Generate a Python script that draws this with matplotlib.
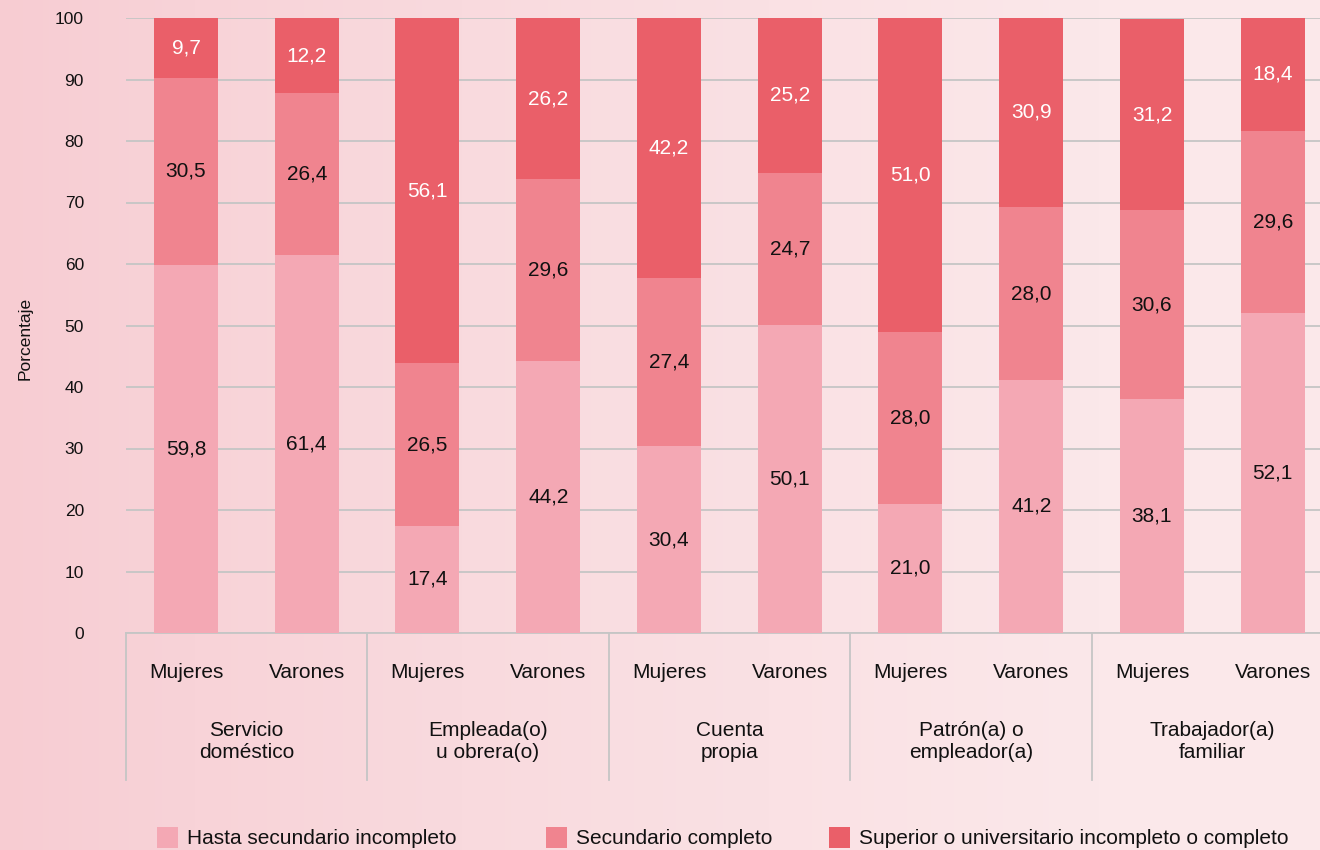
import matplotlib
matplotlib.use("Agg")
import matplotlib.pyplot as plt
import numpy as np
from matplotlib.patches import Rectangle

plt.rcParams['font.family'] = ['Liberation Sans', 'DejaVu Sans']

categories = ["Servicio\ndoméstico", "Empleada(o)\nu obrera(o)", "Cuenta\npropia",
              "Patrón(a) o\nempleador(a)", "Trabajador(a)\nfamiliar"]
sexes = ["Mujeres", "Varones"]
series_names = ["Hasta secundario incompleto", "Secundario completo",
                "Superior o universitario incompleto o completo"]
# order: for each category, Mujeres then Varones
hasta_sec_incompleto = [59.8, 61.4, 17.4, 44.2, 30.4, 50.1, 21.0, 41.2, 38.1, 52.1]
sec_completo = [30.5, 26.4, 26.5, 29.6, 27.4, 24.7, 28.0, 28.0, 30.6, 29.6]
superior = [9.7, 12.2, 56.1, 26.2, 42.2, 25.2, 51.0, 30.9, 31.2, 18.4]
yticks = list(range(0, 101, 10))

colors = ["#F4A8B4", "#F0848F", "#EA5F69"]
text_colors = ["#111111", "#111111", "white"]

W, H = 1320, 850
fig = plt.figure(figsize=(W / 100, H / 100), dpi=100)

# background gradient
bg = fig.add_axes([0, 0, 1, 1], zorder=-10)
c1 = np.array([247, 204, 210]) / 255
c2 = np.array([251, 232, 234]) / 255
t = np.linspace(0, 1, 400)
t = np.clip(t * 1.2, 0, 1) ** 0.8
grad = (c1[None, :] * (1 - t[:, None]) + c2[None, :] * t[:, None])[None, :, :]
bg.imshow(grad, aspect='auto', extent=[0, 1, 0, 1])
bg.axis('off')

x0, x_unit = 125.6, 120.75
y0, ytop = 633, 18
ax = fig.add_axes([x0 / W, (H - y0) / H, 10 * x_unit / W, (y0 - ytop) / H])
ax.set_facecolor('none')
ax.set_xlim(-0.5, 9.5)
ax.set_ylim(0, 100)

x = np.arange(10)
series = [hasta_sec_incompleto, sec_completo, superior]
bottom = np.zeros(10)
for vals, col, tc in zip(series, colors, text_colors):
    vals = np.array(vals)
    ax.bar(x, vals, width=0.53, bottom=bottom, color=col, zorder=3)
    for xi, b, v in zip(x, bottom, vals):
        ax.text(xi, b + v / 2, f"{v:.1f}".replace('.', ','), ha='center', va='center',
                fontsize=15, color=tc, zorder=4)
    bottom = bottom + vals

ax.set_yticks(yticks)
ax.set_yticklabels([str(v) for v in yticks])
ax.tick_params(axis='y', length=0, pad=30, labelsize=12.5, labelcolor='#111111')
ax.set_xticks([])
ax.yaxis.grid(True, color='#C5C5C5', lw=1.3, zorder=0)
ax.set_axisbelow(True)
for s in ['top', 'right', 'left']:
    ax.spines[s].set_visible(False)
ax.spines['bottom'].set_color('#C5C5C5')
ax.spines['bottom'].set_linewidth(1.3)

trans = ax.get_xaxis_transform()
sub_y = (y0 - 672) / (y0 - ytop)
cat_y = (y0 - 742) / (y0 - ytop)
sep_y = (y0 - 780) / (y0 - ytop)
for i in range(10):
    ax.text(i, sub_y, sexes[i % 2], transform=trans, ha='center', va='center',
            fontsize=15, color='#111111')
for g, cat in enumerate(categories):
    ax.text(2 * g + 0.5, cat_y, cat, transform=trans, ha='center', va='center',
            fontsize=15, color='#111111', linespacing=1.2)
for g in range(6):
    ax.plot([2 * g - 0.5, 2 * g - 0.5], [0, sep_y], transform=trans, color='#C5C5C5',
            lw=1.3, clip_on=False, zorder=2)

fig.text(25 / W, 1 - 338 / H, "Porcentaje", rotation=90, ha='center', va='center',
         fontsize=12.5, color='#111111')

# legend
leg_x = [157, 546, 829]
sq = 21
for lx, name, col in zip(leg_x, series_names, colors):
    fig.add_artist(Rectangle((lx / W, 1 - 848 / H), sq / W, sq / H, transform=fig.transFigure,
                             color=col, lw=0))
    fig.text((lx + 30) / W, 1 - 838 / H, name, ha='left', va='center', fontsize=15,
             color='#111111')

fig.savefig("out.png", dpi=100)
